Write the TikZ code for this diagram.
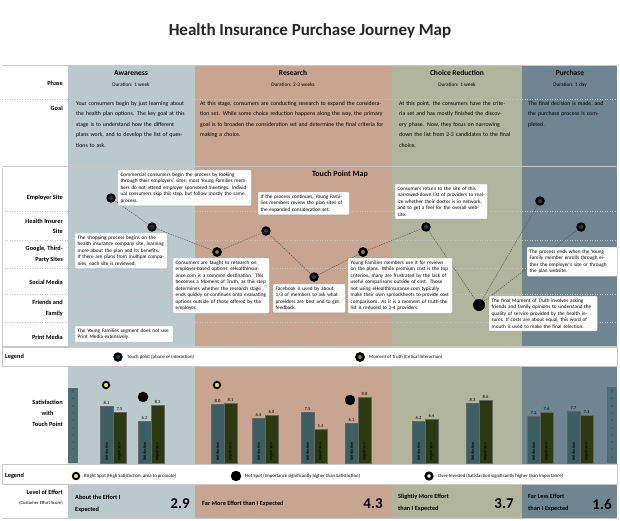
\documentclass[tikz,border=0pt]{standalone}
\usepackage{fontspec}
\setmainfont{Carlito}
\usetikzlibrary{shadows}
\definecolor{awc}{HTML}{BAC9CC}
\definecolor{rec}{HTML}{C8A590}
\definecolor{chc}{HTML}{B0B59B}
\definecolor{puc}{HTML}{6F8692}
\definecolor{tealbar}{HTML}{3D5E63}
\definecolor{olivebar}{HTML}{2D3910}
\definecolor{axisc}{HTML}{4F6E74}
\definecolor{tpc}{HTML}{1F4048}
\definecolor{motc}{HTML}{8C8A28}
\definecolor{brightc}{HTML}{E8E810}
\definecolor{linec}{HTML}{C8C8C8}
\begin{document}
\begin{tikzpicture}[x=1pt,y=-1pt,
  rowlab/.style={font=\bfseries\fontsize{6.3}{10.5}\selectfont, align=right, anchor=east, inner sep=0},
  phasehead/.style={font=\bfseries\fontsize{7.5}{9}\selectfont, inner sep=0},
  durat/.style={font=\fontsize{5.3}{6}\selectfont, inner sep=0},
  goaltxt/.style={font=\fontsize{5.8}{10.5}\selectfont, align=left, anchor=north west, inner sep=0},
  callout/.style={fill=white, draw=gray!25, rounded corners=1pt,
     drop shadow={opacity=0.3,shadow xshift=0.8pt,shadow yshift=-0.8pt},
     font=\fontsize{5.2}{6.5}\selectfont, align=left, anchor=north west, inner sep=2.5pt},
  tp/.style={circle, fill=tpc, draw=black, line width=2.3pt, minimum size=7pt, inner sep=0},
  mot/.style={circle, fill=motc, draw=black, line width=2.6pt, minimum size=7pt, inner sep=0},
  motbig/.style={circle, fill=black, minimum size=12pt, inner sep=0},
  brightdot/.style={circle, fill=brightc, draw=black, line width=1.8pt, minimum size=6.5pt, inner sep=0},
  hotdot/.style={circle, fill=black, minimum size=10.5pt, inner sep=0},
  overdot/.style={circle, fill=white, draw=black, line width=2.6pt, minimum size=6.5pt, inner sep=0},
  conn/.style={draw=gray!60!black, dash pattern=on 1.5pt off 1pt, line width=0.4pt},
  legtxt/.style={font=\fontsize{4.8}{6}\selectfont, anchor=west, inner sep=0},
  vallab/.style={font=\fontsize{4.6}{5}\selectfont, anchor=south, inner sep=0.8pt},
  barlab/.style={font=\bfseries\fontsize{3.8}{4}\selectfont, rotate=90, anchor=west, inner sep=0},
  efftxt/.style={font=\bfseries\fontsize{6.3}{12}\selectfont, align=left, anchor=west, inner sep=0},
  effnum/.style={font=\bfseries\fontsize{15}{16}\selectfont, inner sep=0},
  grid/.style={draw=gray!45, dash pattern=on 1pt off 1.5pt, line width=0.3pt},
  sep/.style={draw=linec, line width=0.6pt}
]
\useasboundingbox (0,0) rectangle (620,520);
\fill[white] (0,0) rectangle (620,520);

% title
\node[font=\bfseries\fontsize{17}{20}\selectfont, text=black!85] (title) at (310,31) {Health Insurance Purchase Journey Map};

% column backgrounds
\fill[awc] (68,65) rectangle (195,518);
\fill[rec] (195,65) rectangle (392,518);
\fill[chc] (392,65) rectangle (522,518);
\fill[puc] (522,65) rectangle (617,518);

% legend rows (white)
\fill[white] (2,347) rectangle (617,366);
\fill[white] (2,464) rectangle (617,484);
\draw[sep] (2,347) rectangle (617,366);
\draw[sep] (2,464) rectangle (617,484);

% separators
\draw[grid] (2,99) -- (617,99);
\draw[sep] (2,166) -- (617,166);
\draw[sep] (2,168) -- (2,346);
\draw[sep] (2,346) -- (617,346);
\draw[sep] (2,518) -- (617,518);
\draw[sep] (2,65) -- (617,65);

% touch map gridlines
\foreach \yy in {211,240,268,294,322} \draw[grid] (2,\yy) -- (617,\yy);

% phase row
\node[rowlab] (phaselab) at (63,83) {Phase};
\node[rowlab] (goallab) at (63,108) {Goal};
\node[phasehead] (h1) at (131,73) {Awareness};
\node[durat] (d1) at (131,85) {Duration: 1 week};
\node[phasehead] (h2) at (293,73) {Research};
\node[durat] (d2) at (293,85) {Duration: 2-3 weeks};
\node[phasehead] (h3) at (457,73) {Choice Reduction};
\node[durat] (d3) at (457,85) {Duration: 1 week};
\node[phasehead] (h4) at (570,73) {Purchase};
\node[durat] (d4) at (570,85) {Duration: 1 day};

% goals
\node[goaltxt, text width=112pt] (g1) at (76,101) {Your consumers begin by just learning about the health plan options. The key goal at this stage is to understand how the different plans work, and to develop the list of questions to ask.};
\node[goaltxt, text width=185pt] (g2) at (200,101) {At this stage, consumers are conducting research to expand the consideration set. While some choice reduction happens along the way, the primary goal is to broaden the consideration set and determine the final criteria for making a choice.};
\node[goaltxt, text width=112pt] (g3) at (399,101) {At this point, the consumers have the criteria set and has mostly finished the discovery phase. Now, they focus on narrowing down the list from 2-3 candidates to the final choice.};
\node[goaltxt, text width=82pt] (g4) at (528,101) {The final decision is made, and the purchase process is completed.};

% touch point map
\node[font=\bfseries\fontsize{8}{9}\selectfont, inner sep=0] (tpm) at (340,174) {Touch Point Map};
\node[rowlab] (r1) at (63,198) {Employer Site};
\node[rowlab] (r2) at (63,226.5) {Health Insurer\\Site};
\node[rowlab] (r3) at (63,254.5) {Google, Third-\\Party Sites};
\node[rowlab] (r4) at (63,282) {Social Media};
\node[rowlab] (r5) at (63,308.5) {Friends and\\Family};
\node[rowlab] (r6) at (63,337) {Print Media};

% dots
\node[tp] (p1) at (111,198) {};
\node[tp] (p2) at (152,227) {};
\node[mot] (p3) at (217,252) {};
\node[tp] (p4) at (266,231) {};
\node[tp] (p5) at (314,277) {};
\node[mot] (p6) at (363,252) {};
\node[tp] (p7) at (426,227) {};
\node[motbig] (p8) at (479,305) {};
\node[tp] (p9) at (540,201) {};
\node[tp] (p10) at (581,227) {};

\draw[conn] (p1) -- (p2);
\draw[conn] (p2) -- (p3);
\draw[conn] (p3) -- (p4);
\draw[conn] (p4) -- (p5);
\draw[conn] (p5) -- (p6);
\draw[conn] (p6) -- (p7);
\draw[conn] (p7) -- (p8);
\draw[conn] (p8) -- (p9);
\draw[conn] (p8) -- (p10);

% callouts
\node[callout, text width=128pt] (ca) at (118,170) {Commercial consumers begin the process by looking through their employers' sites; most Young Families members do not attend employer sponsored meetings. Individual consumers skip this step, but follow mostly the same process.};
\node[callout, text width=87pt] (cb) at (75,233) {The shopping process begins on the health insurance company site, learning more about the plan and its benefits. If there are plans from multiple companies, each site is reviewed.};
\node[callout, text width=91pt] (cc) at (173,258) {Consumers are taught to research on employer-based options; eHealthInsurance.com is a common destination. This becomes a Moment of Truth, as this step determines whether the research stage ends quickly or continues onto evaluating options outside of those offered by the employer.};
\node[callout, text width=86pt] (cd) at (258,192) {If the process continues, Young Families members review the plan sites of the expanded consideration set.};
\node[callout, text width=67pt] (ce) at (273,284) {Facebook is used by about 1/3 of members to ask what providers are best and to get feedback.};
\node[callout, text width=99pt] (cf) at (348,258) {Young Families members use it for reviews on the plans. While premium cost is the top criterion, many are frustrated by the lack of useful comparisons outside of cost. Those not using eHealthInsurance.com typically make their own spreadsheets to provide cost comparisons. As it is a moment of truth the list is reduced to 3-4 providers.};
\node[callout, text width=87pt] (cg) at (395,184) {Consumers return to the site of this narrowed-down list of providers to realize whether their doctor is in network, and to get a feel for the overall website.};
\node[callout, text width=103pt] (ch) at (489,296) {The final Moment of Truth involves asking friends and family opinions to understand the quality of service provided by the health insurer. If costs are about equal, this word of mouth is used to make the final selection.};
\node[callout, text width=85pt] (ci) at (527,247) {The process ends when the Young Family member enrolls through either the employer's site or through the plan website.};
\node[callout, text width=93pt] (cj) at (75,326) {The Young Families segment does not use Print Media extensively.};

% legend 1
\node[font=\bfseries\fontsize{6.3}{7}\selectfont, anchor=west, inner sep=0] (leg1) at (5,357) {Legend};
\node[tp] (l1a) at (118,357) {};
\node[legtxt] (l1at) at (127,357) {Touch point (phone or interaction)};
\node[mot] (l1b) at (360,357) {};
\node[legtxt] (l1bt) at (369,357) {Moment of Truth (Critical Interaction)};

% satisfaction section
\node[rowlab, font=\bfseries\fontsize{6.3}{11}\selectfont, align=center] (satlab) at (63,413) {Satisfaction\\with\\Touch Point};
\fill[axisc] (68,388) rectangle (78,463);
\fill[axisc] (607,387) rectangle (617,463);
\foreach \i in {1,...,10} {
  \node[font=\fontsize{3.5}{4}\selectfont, rotate=90, inner sep=0, text=black!80] at (73,{461-(\i-0.5)*7.3}) {\i};
  \node[font=\fontsize{3.5}{4}\selectfont, rotate=90, inner sep=0, text=black!80] at (612,{461-(\i-0.5)*7.3}) {\i};
}
% bars: x-left, teal top, olive top, labels
\foreach \xl/\tt/\ot/\tl/\ol in {100/406/412/8.1/7.5, 138/421/405/6.2/8.3, 211/404/403/8.0/8.1, 252/418/415/6.5/6.8, 301/412/429/7.5/5.4, 345/423/397/6.1/8.8, 412/421/419/6.2/6.4, 466/403/400/8.3/8.6, 527/416/412/7.2/7.6, 567/411/415/7.7/7.3} {
  \draw[fill=tealbar, draw=black!60, line width=0.3pt] (\xl,463) rectangle ({\xl+13},\tt);
  \draw[fill=olivebar, draw=black!60, line width=0.3pt] ({\xl+13},463) rectangle ({\xl+26},\ot);
  \node[vallab] at ({\xl+6.5},\tt) {\tl};
  \node[vallab] at ({\xl+19.5},\ot) {\ol};
  \node[barlab] at ({\xl+6.5},461) {Satisfaction};
  \node[barlab] at ({\xl+19.5},461) {Importance};
}
\node[brightdot] (b1) at (106,385) {};
\node[hotdot] (h1d) at (143,397) {};
\node[brightdot] (b2) at (217,385) {};
\node[hotdot] (h2d) at (350,400) {};

% legend 2
\node[font=\bfseries\fontsize{6.3}{7}\selectfont, anchor=west, inner sep=0] (leg2) at (5,476) {Legend};
\node[brightdot] (l2a) at (76,476) {};
\node[legtxt] (l2at) at (84,476) {Bright Spot (High Satisfaction, area to promote)};
\node[hotdot] (l2b) at (236,476) {};
\node[legtxt] (l2bt) at (245,476) {Hot Spot (Importance significantly higher than Satisfaction)};
\node[overdot] (l2c) at (429,476) {};
\node[legtxt] (l2ct) at (438,476) {Over-Invested (Satisfaction significantly higher than Importance)};

% level of effort
\node[rowlab, font=\bfseries\fontsize{6.3}{7}\selectfont] (loe) at (63,492) {Level of Effort};
\node[rowlab, font=\fontsize{4.6}{5}\selectfont] (loe2) at (63,503) {(Customer Effort Score)};
\node[efftxt] (e1) at (75,504) {About the Effort I\\Expected};
\node[effnum] (n1) at (180,504) {2.9};
\node[efftxt] (e2) at (202,504) {Far More Effort than I Expected};
\node[effnum] (n2) at (373,504) {4.3};
\node[efftxt] (e3) at (398,503) {Slightly More Effort\\than I Expected};
\node[effnum] (n3) at (504,504) {3.7};
\node[efftxt] (e4) at (528,503) {Far Less Effort\\than I Expected};
\node[effnum] (n4) at (602,504) {1.6};
\end{tikzpicture}
\end{document}
